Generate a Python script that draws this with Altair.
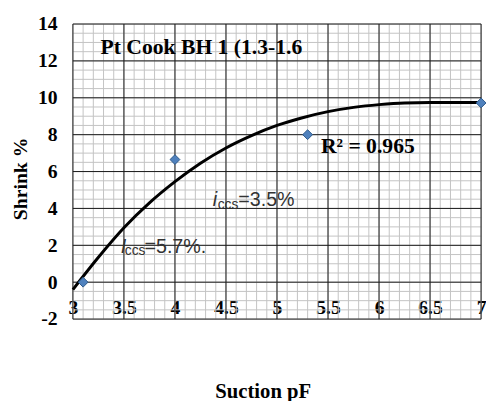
import altair as alt
import pandas as pd

# measured points (Suction pF, Shrink %)
pf_points = [3.1, 4.0, 5.3, 7.0]
shrink_points = [0.0, 6.65, 8.0, 9.72]

# trend curve
trend_pf = [3.0, 3.25, 3.5, 3.75, 4.0, 4.25, 4.5, 4.75, 5.0, 5.25, 5.5, 5.75, 6.0, 6.25, 6.5, 7.0]
trend_shrink = [-0.4, 1.35, 2.95, 4.3, 5.45, 6.45, 7.28, 7.95, 8.5, 8.92, 9.25, 9.48, 9.63, 9.72, 9.74, 9.74]

x_ticks = [3, 3.5, 4, 4.5, 5, 5.5, 6, 6.5, 7]
y_ticks = [-2, 0, 2, 4, 6, 8, 10, 12, 14]
x_minor = [round(3 + 0.1 * i, 1) for i in range(41)]
y_minor = [round(-2 + 0.5 * i, 1) for i in range(33)]

title_text = ["Pt Cook BH 1 (1.3-1.6"]
title_pos = [(3.27, 12.38)]
r2_text = ["R\u00b2 = 0.965"]
r2_pos = [(5.43, 7.01)]
ann1 = ["i", "ccs", "=3.5%"]
ann1_pos = [(4.37, 4.15)]
ann2 = ["I", "ccs", "=5.7%."]
ann2_pos = [(3.47, 1.61)]

SERIF = "Liberation Serif"
SANS = "Liberation Sans"

xs = alt.Scale(domain=[3, 7], nice=False, zero=False)
ys = alt.Scale(domain=[-2, 14], nice=False, zero=False)

x_axis = alt.Axis(
    values=x_ticks, labelExpr="'' + datum.value", grid=False, domain=False,
    ticks=False, labelPadding=-6, labelBaseline="alphabetic",
    labelFont=SERIF, labelFontSize=20, labelFontWeight="bold", labelColor="black",
    labelFlush=False, labelOverlap=False,
    title="Suction pF", titleFont=SERIF, titleFontSize=21, titleFontWeight="bold",
    titleColor="black", titleX=193, titleY=74, titleBaseline="middle",
    titleAlign="center",
)
y_axis = alt.Axis(
    values=y_ticks, labelExpr="'' + datum.value", grid=False, domain=False,
    ticks=False, labelPadding=16, labelFont=SERIF, labelFontSize=20,
    labelFontWeight="bold", labelColor="black", labelFlush=False,
    labelOverlap=False,
    title="Shrink %", titleFont=SERIF, titleFontSize=20, titleFontWeight="bold",
    titleColor="black", titleX=-53, titleY=157, titleAngle=270,
    titleAlign="center", titleBaseline="middle",
)


def X(f):
    return alt.X(f, scale=xs, axis=x_axis)


def Y(f):
    return alt.Y(f, scale=ys, axis=y_axis)


minor_v = alt.Chart(pd.DataFrame({"v": x_minor})).mark_rule(
    color="#c3c3c3", strokeWidth=1
).encode(x=X("v:Q"))
minor_h = alt.Chart(pd.DataFrame({"v": y_minor})).mark_rule(
    color="#c3c3c3", strokeWidth=1
).encode(y=Y("v:Q"))
major_v = alt.Chart(pd.DataFrame({"v": x_ticks})).mark_rule(
    color="#1a1a1a", strokeWidth=1
).encode(x=X("v:Q"))
major_h = alt.Chart(pd.DataFrame({"v": y_ticks})).mark_rule(
    color="#1a1a1a", strokeWidth=1
).encode(y=Y("v:Q"))

curve = alt.Chart(pd.DataFrame({"pf": trend_pf, "s": trend_shrink})).mark_line(
    color="black", strokeWidth=3, interpolate="monotone"
).encode(x=X("pf:Q"), y=Y("s:Q"))

points = alt.Chart(pd.DataFrame({"pf": pf_points, "s": shrink_points})).mark_point(
    shape="diamond", filled=True, fill="#4F81BD", stroke="#2E5A8A",
    strokeWidth=1, opacity=1, size=100
).encode(x=X("pf:Q"), y=Y("s:Q"))


def txt(label, pos, **kw):
    df = pd.DataFrame({"pf": [pos[0]], "s": [pos[1]], "t": [label]})
    return alt.Chart(df).mark_text(align="left", baseline="alphabetic", **kw).encode(
        x=X("pf:Q"), y=Y("s:Q"), text="t:N",
    )


texts = [
    txt(title_text[0], title_pos[0], font=SERIF, fontSize=22, fontWeight="bold", color="black"),
    txt(r2_text[0], r2_pos[0], font=SERIF, fontSize=22, fontWeight="bold", color="black"),
    txt(ann1[0], ann1_pos[0], font=SANS, fontSize=20, fontStyle="italic", color="#333333"),
    txt(ann1[1], ann1_pos[0], font=SANS, fontSize=14, color="#333333", dx=5, dy=3),
    txt(ann1[2], ann1_pos[0], font=SANS, fontSize=20, color="#333333", dx=26),
    txt(ann2[0], ann2_pos[0], font=SANS, fontSize=20, fontStyle="italic", color="#333333"),
    txt(ann2[1], ann2_pos[0], font=SANS, fontSize=14, color="#333333", dx=4, dy=3),
    txt(ann2[2], ann2_pos[0], font=SANS, fontSize=20, color="#333333", dx=24),
]

chart = alt.layer(minor_v, minor_h, major_v, major_h, curve, points, *texts).properties(
    width=415, height=300,
    autosize=alt.AutoSizeParams(type="none"),
    padding={"left": 66, "top": 13, "right": 5, "bottom": 80},
    background="white",
).configure_view(stroke=None)

chart.save("out.html", embed_options={"renderer": "svg", "actions": False})
